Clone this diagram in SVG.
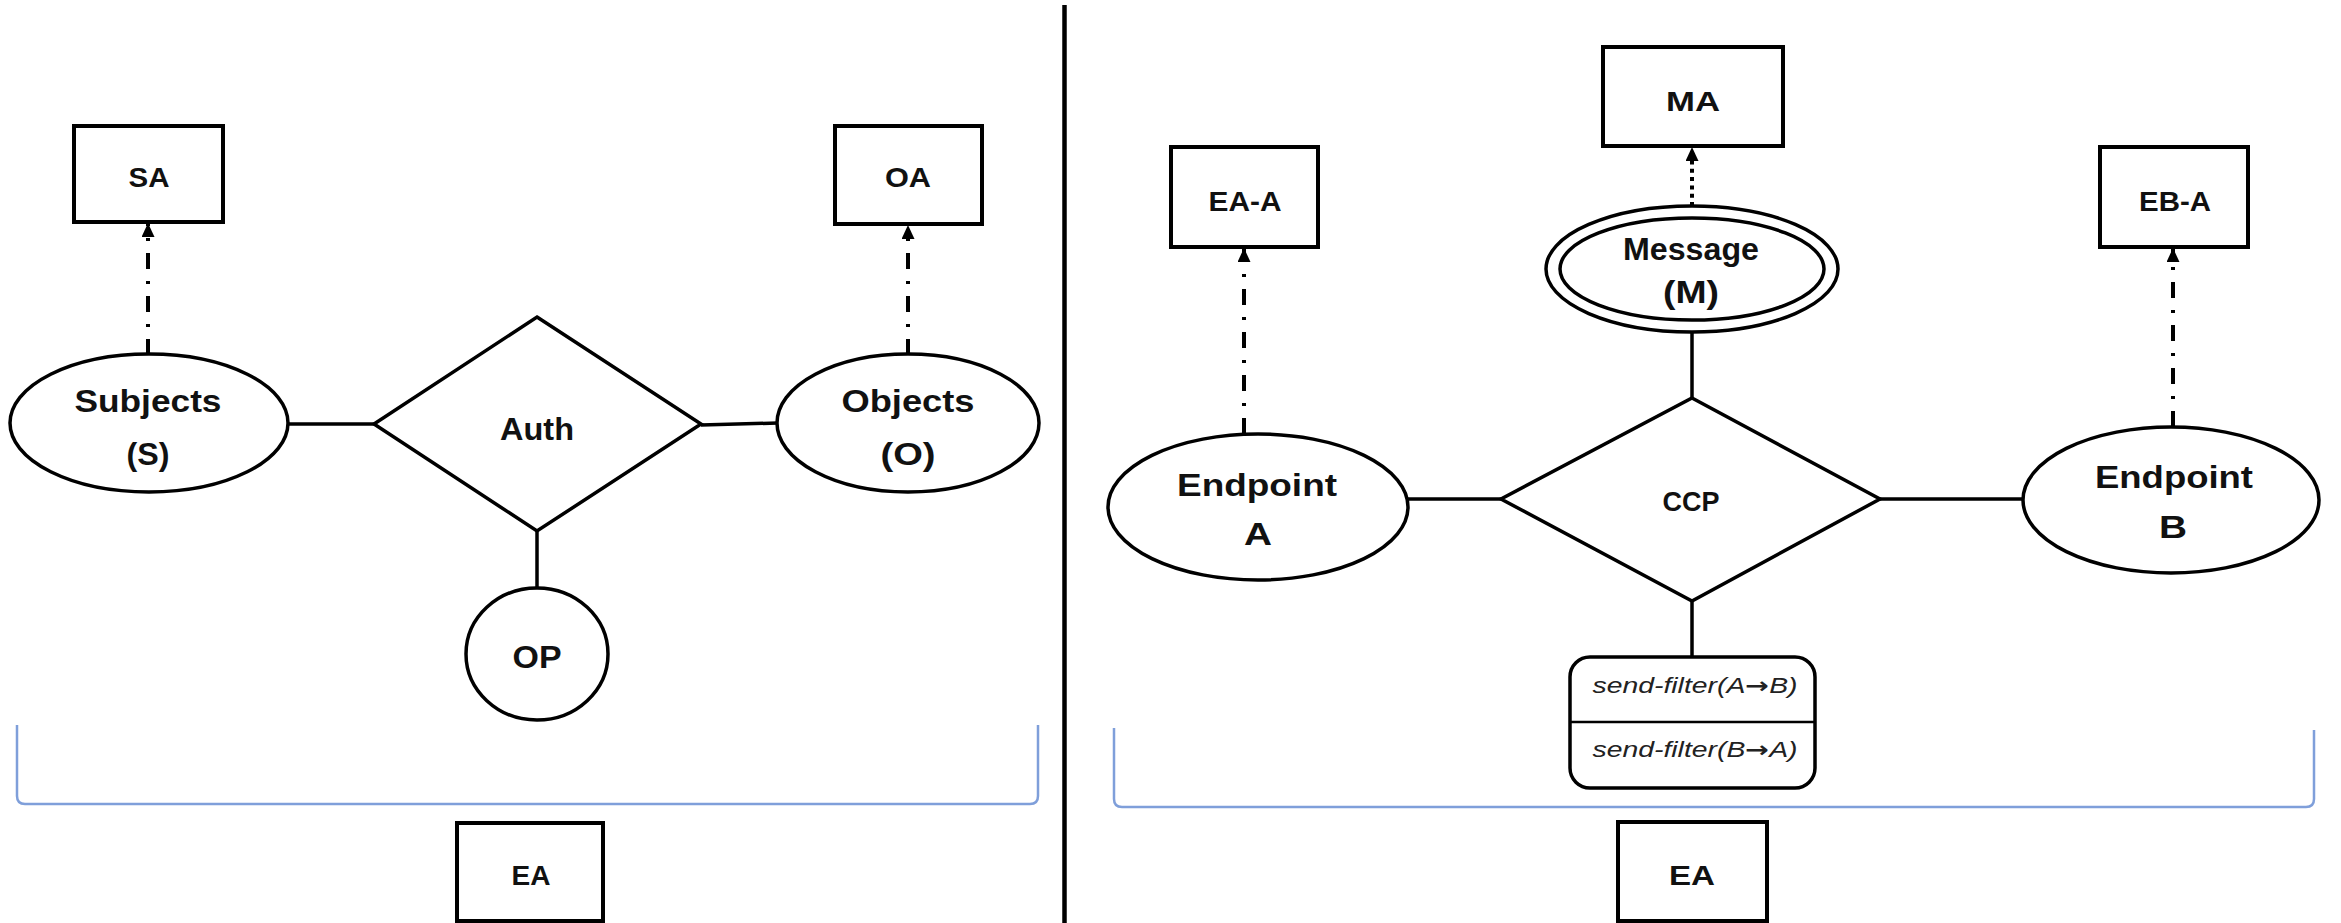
<svg xmlns="http://www.w3.org/2000/svg" width="2341" height="923" viewBox="0 0 2341 923">
  <style>
    .box { fill: #fff; stroke: #000; stroke-width: 4; }
    .shape { fill: #fff; stroke: #000; stroke-width: 3.5; }
    .link { stroke: #000; stroke-width: 3.5; fill: none; }
    .dashdot { stroke: #000; stroke-width: 4; fill: none; stroke-dasharray: 16 12 3 12; }
    .dotted { stroke: #000; stroke-width: 4; fill: none; stroke-dasharray: 4 4.3; }
    .brace { stroke: #7f9fda; stroke-width: 2.5; fill: none; }
    .lbl { font-family: "Liberation Sans", Arial, sans-serif; font-weight: bold; font-size: 31px; fill: #111; text-anchor: middle; }
    .sm { font-size: 28px; }
    .filt { font-family: "Liberation Sans", Arial, sans-serif; font-style: italic; font-size: 22px; fill: #222; text-anchor: middle; }
    .arr { font-family: "DejaVu Sans", sans-serif; font-style: normal; font-weight: bold; font-size: 22px; }
  </style>
  <defs>
    <marker id="head" viewBox="0 0 14 13" refX="14" refY="6.5" markerWidth="14" markerHeight="13" markerUnits="userSpaceOnUse" orient="auto">
      <path d="M0,0 L14,6.5 L0,13 Z" fill="#000"/>
    </marker>
  </defs>
  <rect width="2341" height="923" fill="#fff"/>

  <!-- panel divider -->
  <line x1="1064.5" y1="5" x2="1064.5" y2="923" stroke="#000" stroke-width="4.5"/>

  <!-- scope braces -->
  <g id="braces">
    <path class="brace" d="M17,725 V796 Q17,804 25,804 H1030 Q1038,804 1038,796 V725"/>
    <path class="brace" d="M1114,728 V799 Q1114,807 1122,807 H2306 Q2314,807 2314,799 V730"/>
  </g>

  <!-- connectors -->
  <g id="connectors">
    <line class="link" x1="287" y1="424" x2="374" y2="424"/>
    <line class="link" x1="701" y1="425" x2="778" y2="423"/>
    <line class="link" x1="537" y1="531" x2="537" y2="588"/>
    <line class="dashdot" x1="148" y1="355" x2="148" y2="223" marker-end="url(#head)"/>
    <line class="dashdot" x1="908" y1="355" x2="908" y2="225" marker-end="url(#head)"/>
    <line class="link" x1="1408" y1="499" x2="1501" y2="499"/>
    <line class="link" x1="1880" y1="499" x2="2023" y2="499"/>
    <line class="link" x1="1692" y1="332" x2="1692" y2="398"/>
    <line class="link" x1="1692" y1="601" x2="1692" y2="657"/>
    <line class="dashdot" x1="1244" y1="434" x2="1244" y2="248" marker-end="url(#head)"/>
    <line class="dashdot" x1="2173" y1="427" x2="2173" y2="248" marker-end="url(#head)"/>
    <line class="dotted" x1="1692" y1="206" x2="1692" y2="147" marker-end="url(#head)"/>
  </g>

  <!-- left panel -->
  <g id="SA">
    <rect class="box" x="74" y="126" width="149" height="96"/>
    <text class="lbl sm" x="149" y="187" textLength="41" lengthAdjust="spacingAndGlyphs">SA</text>
  </g>
  <g id="OA">
    <rect class="box" x="835" y="126" width="147" height="98"/>
    <text class="lbl sm" x="908" y="187" textLength="46" lengthAdjust="spacingAndGlyphs">OA</text>
  </g>
  <g id="subjects">
    <ellipse class="shape" cx="149" cy="423" rx="139" ry="69"/>
    <text class="lbl" x="148" y="412" textLength="147" lengthAdjust="spacingAndGlyphs">Subjects</text>
    <text class="lbl" x="148" y="465" textLength="43" lengthAdjust="spacingAndGlyphs">(S)</text>
  </g>
  <g id="objects">
    <ellipse class="shape" cx="908" cy="423" rx="131" ry="69"/>
    <text class="lbl" x="908" y="412" textLength="133" lengthAdjust="spacingAndGlyphs">Objects</text>
    <text class="lbl" x="908" y="465" textLength="55" lengthAdjust="spacingAndGlyphs">(O)</text>
  </g>
  <g id="auth">
    <polygon class="shape" points="537,317 701,424 537,531 374,424"/>
    <text class="lbl" x="537" y="440" textLength="74" lengthAdjust="spacingAndGlyphs">Auth</text>
  </g>
  <g id="OP">
    <ellipse class="shape" cx="537" cy="654" rx="71" ry="66"/>
    <text class="lbl" x="537" y="668" textLength="49" lengthAdjust="spacingAndGlyphs">OP</text>
  </g>
  <g id="EA-left">
    <rect class="box" x="457" y="823" width="146" height="98"/>
    <text class="lbl sm" x="531" y="885" textLength="39" lengthAdjust="spacingAndGlyphs">EA</text>
  </g>

  <!-- right panel -->
  <g id="MA">
    <rect class="box" x="1603" y="47" width="180" height="99"/>
    <text class="lbl sm" x="1693" y="111" textLength="54" lengthAdjust="spacingAndGlyphs">MA</text>
  </g>
  <g id="EA-A">
    <rect class="box" x="1171" y="147" width="147" height="100"/>
    <text class="lbl sm" x="1245" y="211" textLength="73" lengthAdjust="spacingAndGlyphs">EA-A</text>
  </g>
  <g id="EB-A">
    <rect class="box" x="2100" y="147" width="148" height="100"/>
    <text class="lbl sm" x="2175" y="211" textLength="72" lengthAdjust="spacingAndGlyphs">EB-A</text>
  </g>
  <g id="message">
    <ellipse class="shape" cx="1692" cy="269" rx="146" ry="63"/>
    <ellipse class="shape" cx="1692" cy="269" rx="132" ry="51"/>
    <text class="lbl" x="1691" y="260" textLength="136" lengthAdjust="spacingAndGlyphs">Message</text>
    <text class="lbl" x="1691" y="303" textLength="56" lengthAdjust="spacingAndGlyphs">(M)</text>
  </g>
  <g id="endpoint-a">
    <ellipse class="shape" cx="1258" cy="507" rx="150" ry="73"/>
    <text class="lbl" x="1257" y="496" textLength="160" lengthAdjust="spacingAndGlyphs">Endpoint</text>
    <text class="lbl" x="1258" y="545" textLength="28" lengthAdjust="spacingAndGlyphs">A</text>
  </g>
  <g id="endpoint-b">
    <ellipse class="shape" cx="2171" cy="500" rx="148" ry="73"/>
    <text class="lbl" x="2174" y="488" textLength="158" lengthAdjust="spacingAndGlyphs">Endpoint</text>
    <text class="lbl" x="2173" y="538" textLength="28" lengthAdjust="spacingAndGlyphs">B</text>
  </g>
  <g id="CCP">
    <polygon class="shape" points="1692,398 1880,499 1692,601 1501,499"/>
    <text class="lbl sm" x="1691" y="511" textLength="57" lengthAdjust="spacingAndGlyphs">CCP</text>
  </g>
  <g id="filters">
    <rect class="shape" x="1570" y="657" width="245" height="131" rx="20"/>
    <line x1="1570" y1="722" x2="1815" y2="722" stroke="#000" stroke-width="2.5"/>
    <text class="filt" x="1695" y="693" textLength="205" lengthAdjust="spacingAndGlyphs">send-filter(A<tspan class="arr">→</tspan>B)</text>
    <text class="filt" x="1695" y="757" textLength="205" lengthAdjust="spacingAndGlyphs">send-filter(B<tspan class="arr">→</tspan>A)</text>
  </g>
  <g id="EA-right">
    <rect class="box" x="1618" y="822" width="149" height="99"/>
    <text class="lbl sm" x="1692" y="885" textLength="46" lengthAdjust="spacingAndGlyphs">EA</text>
  </g>
</svg>
